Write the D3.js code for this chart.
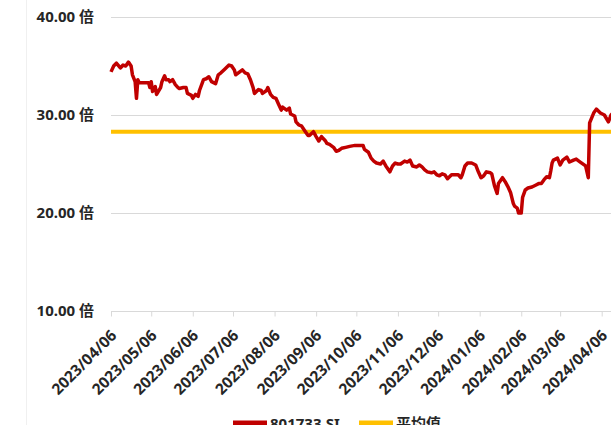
<!DOCTYPE html>
<html>
<head>
<meta charset="utf-8">
<script src="https://cdn.jsdelivr.net/npm/d3@7"></script>
<style>
  body { margin: 0; background: #fff; }
  svg { display: block; font-family: "Noto Sans", "Noto Sans CJK SC", sans-serif; }
</style>
</head>
<body>
<div id="chart"></div>
<script>
// PE series 801733.SI
const dates = [
  "2023-04-06","2023-04-08","2023-04-10","2023-04-13","2023-04-15","2023-04-17","2023-04-19","2023-04-21","2023-04-22","2023-04-24",
  "2023-04-25","2023-04-26","2023-04-27","2023-04-28","2023-05-01","2023-05-04","2023-05-05","2023-05-06","2023-05-07","2023-05-09",
  "2023-05-10","2023-05-13","2023-05-14","2023-05-16","2023-05-17","2023-05-19","2023-05-20","2023-05-22","2023-05-24","2023-05-26",
  "2023-05-27","2023-05-30","2023-06-01","2023-06-02","2023-06-05","2023-06-06","2023-06-08","2023-06-10","2023-06-11","2023-06-14",
  "2023-06-16","2023-06-18","2023-06-20","2023-06-23","2023-06-25","2023-06-27","2023-06-30","2023-07-03","2023-07-05","2023-07-07",
  "2023-07-08","2023-07-10","2023-07-13","2023-07-15","2023-07-17","2023-07-19","2023-07-21","2023-07-22","2023-07-25","2023-07-27",
  "2023-07-28","2023-07-31","2023-08-01","2023-08-03","2023-08-05","2023-08-07","2023-08-09","2023-08-11","2023-08-12","2023-08-15",
  "2023-08-17","2023-08-18","2023-08-21","2023-08-22","2023-08-24","2023-08-26","2023-08-29","2023-08-31","2023-09-01","2023-09-04",
  "2023-09-06","2023-09-08","2023-09-10","2023-09-13","2023-09-14","2023-09-16","2023-09-19","2023-09-21","2023-09-23","2023-09-25",
  "2023-09-28","2023-10-01","2023-10-05","2023-10-09","2023-10-11","2023-10-12","2023-10-15","2023-10-17","2023-10-19","2023-10-21",
  "2023-10-24","2023-10-26","2023-10-28","2023-10-31","2023-11-02","2023-11-04","2023-11-06","2023-11-08","2023-11-11","2023-11-13",
  "2023-11-15","2023-11-17","2023-11-20","2023-11-22","2023-11-24","2023-11-26","2023-11-28","2023-12-01","2023-12-03","2023-12-05",
  "2023-12-07","2023-12-09","2023-12-11","2023-12-13","2023-12-16","2023-12-19","2023-12-21","2023-12-23","2023-12-24","2023-12-26",
  "2023-12-28","2023-12-31","2024-01-03","2024-01-05","2024-01-07","2024-01-09","2024-01-11","2024-01-14","2024-01-15","2024-01-17",
  "2024-01-19","2024-01-20","2024-01-23","2024-01-25","2024-01-27","2024-01-29","2024-01-31","2024-02-01","2024-02-03","2024-02-04",
  "2024-02-06","2024-02-07","2024-02-09","2024-02-11","2024-02-14","2024-02-17","2024-02-19","2024-02-21","2024-02-23","2024-02-25",
  "2024-02-27","2024-02-28","2024-02-29","2024-03-01","2024-03-04","2024-03-06","2024-03-08","2024-03-11","2024-03-13","2024-03-16",
  "2024-03-18","2024-03-21","2024-03-25","2024-03-27","2024-03-28","2024-03-31","2024-04-02","2024-04-05","2024-04-08","2024-04-11",
  "2024-04-13","2024-04-15"
];
const peValues = [
  34.4,35.0,35.3,34.8,35.1,35.0,35.4,35.0,34.1,33.4,
  31.7,33.6,33.3,33.3,33.3,33.3,32.8,33.4,32.4,32.9,
  32.1,32.8,33.4,34.0,33.6,33.6,33.4,33.6,33.1,32.8,
  32.7,32.8,32.8,32.2,32.0,31.7,32.1,31.9,32.5,33.6,
  33.7,33.9,33.4,33.2,34.1,34.3,34.7,35.1,35.0,34.6,
  34.1,34.3,34.6,34.3,34.2,33.6,32.8,32.2,32.6,32.5,
  32.2,32.5,32.8,32.1,31.8,31.7,31.1,30.5,30.8,30.5,
  30.7,30.1,29.9,29.3,29.0,28.9,28.3,27.9,27.9,28.3,
  27.8,27.35,27.8,27.35,27.1,27.0,26.7,26.3,26.4,26.6,
  26.7,26.8,26.9,26.9,26.9,26.5,26.2,25.6,25.3,25.1,
  25.0,25.3,24.8,24.2,24.8,25.1,25.0,25.0,25.3,25.2,
  25.4,24.8,24.7,24.9,24.7,24.4,24.2,24.1,24.2,23.9,
  23.8,24.0,23.9,23.5,23.9,23.9,23.9,23.6,23.9,24.8,
  25.1,25.1,24.9,24.2,23.6,23.8,24.2,24.1,24.0,22.8,
  22.0,23.0,23.6,23.2,22.7,22.1,21.0,20.7,20.5,20.0,
  20.0,21.6,22.35,22.55,22.65,22.86,23.0,23.0,23.4,23.7,
  23.6,24.3,25.1,25.4,25.6,24.9,25.4,25.7,25.2,25.4,
  25.5,25.2,24.8,23.6,29.2,30.2,30.6,30.2,30.0,29.3,
  30.0,30.3
];
const averageValue = 28.3;
const yTicks = [10, 20, 30, 40];
const xTickDates = [
  "2023-04-06","2023-05-06","2023-06-06","2023-07-06","2023-08-06","2023-09-06","2023-10-06",
  "2023-11-06","2023-12-06","2024-01-06","2024-02-06","2024-03-06","2024-04-06"
];
const seriesNames = ["801733.SI", "平均值"];
const colors = ["#c00000", "#ffc000"];

const W = 611, H = 425;
const parse = d3.timeParse("%Y-%m-%d");
const data = dates.map((d, i) => ({date: parse(d), value: peValues[i]}));

const svg = d3.select("#chart").append("svg")
  .attr("width", W).attr("height", H);

// faint border at the left of the chart area
svg.append("line")
  .attr("x1", 26.5).attr("x2", 26.5).attr("y1", 0).attr("y2", H)
  .attr("stroke", "#f0f0f0");

// scales
const x = d3.scaleTime()
  .domain([parse("2023-04-06"), parse("2024-04-06")])
  .range([111, 601.7]);
const y = d3.scaleLinear()
  .domain([10, 40])
  .range([311, 17]);

const plotRight = W;

// grid lines
svg.append("g")
  .selectAll("line")
  .data(yTicks.filter(t => t > 10))
  .join("line")
    .attr("x1", 111).attr("x2", plotRight)
    .attr("y1", d => Math.round(y(d)) + 0.5).attr("y2", d => Math.round(y(d)) + 0.5)
    .attr("stroke", "#d9d9d9");

// y labels
svg.append("g")
  .selectAll("text")
  .data(yTicks)
  .join("text")
    .attr("x", 94)
    .attr("y", d => y(d))
    .attr("dy", "0.35em")
    .attr("text-anchor", "end")
    .attr("font-size", "15px")
    .attr("font-weight", 700)
    .attr("fill", "#262626")
    .text(d => d3.format(".2f")(d) + " 倍");

// x axis
const xAxis = svg.append("g")
  .attr("transform", `translate(0, ${Math.round(y(10)) + 0.5})`)
  .call(d3.axisBottom(x)
    .tickValues(xTickDates.map(parse))
    .tickSize(5)
    .tickFormat(d3.timeFormat("%Y/%m/%d")));
xAxis.select(".domain")
  .attr("stroke", "#d9d9d9")
  .attr("d", `M111,0H${plotRight}`);
xAxis.selectAll(".tick line").attr("stroke", "#d9d9d9");
xAxis.selectAll(".tick text")
  .attr("font-size", "15.5px")
  .attr("font-weight", 700)
  .attr("font-family", "Noto Sans, sans-serif")
  .attr("fill", "#262626")
  .attr("text-anchor", "end")
  .attr("transform", "translate(6,25) rotate(-45)")
  .attr("dy", 0)
  .attr("y", 0)
  .attr("x", 0);

// average line
svg.append("line")
  .attr("x1", 111).attr("x2", plotRight)
  .attr("y1", y(averageValue)).attr("y2", y(averageValue))
  .attr("stroke", colors[1])
  .attr("stroke-width", 4);

// PE line
svg.append("path")
  .datum(data)
  .attr("fill", "none")
  .attr("stroke", colors[0])
  .attr("stroke-width", 3.5)
  .attr("stroke-linejoin", "round")
  .attr("d", d3.line().x(d => x(d.date)).y(d => y(d.value)));

// legend
const legend = svg.append("g");
const legendX = [233, 359];
seriesNames.forEach((name, i) => {
  legend.append("line")
    .attr("x1", legendX[i]).attr("x2", legendX[i] + 34)
    .attr("y1", 423).attr("y2", 423)
    .attr("stroke", colors[i])
    .attr("stroke-width", 5);
  legend.append("text")
    .attr("x", legendX[i] + 37)
    .attr("y", 429)
    .attr("font-size", "15px")
    .attr("font-weight", 700)
    .attr("fill", "#262626")
    .text(name);
});
</script>
</body>
</html>
